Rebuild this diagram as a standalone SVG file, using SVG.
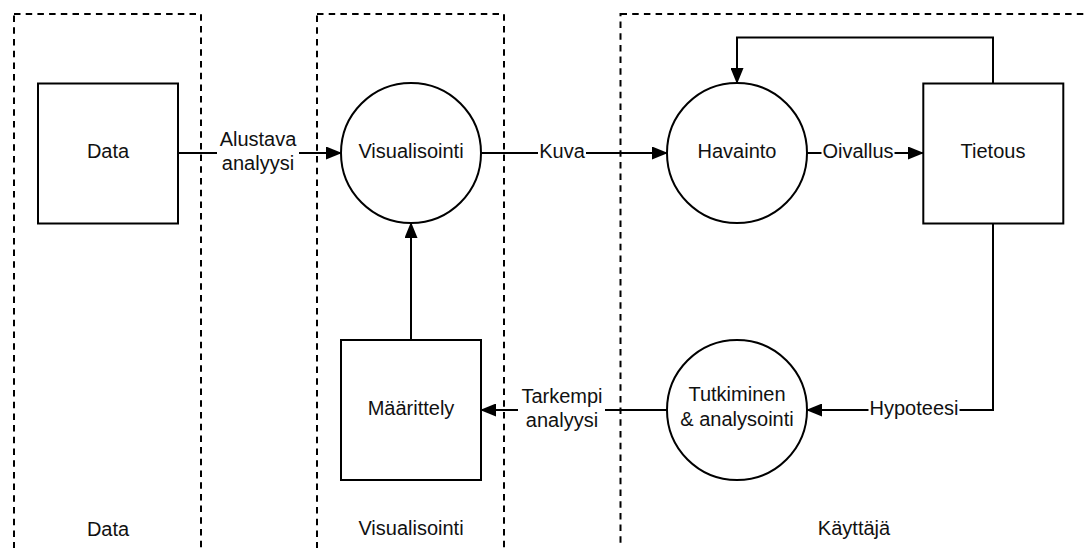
<svg xmlns="http://www.w3.org/2000/svg" width="1085" height="548" viewBox="0 0 1085 548">
  <style>
    .lane { fill: none; stroke: #000; stroke-width: 2; stroke-dasharray: 6.5 5.2; }
    .shape { fill: #fff; stroke: #000; stroke-width: 2; }
    .edge { fill: none; stroke: #000; stroke-width: 2; }
    .lbl-bg { fill: #fff; stroke: none; }
    text { font-family: "Liberation Sans", Arial, sans-serif; font-size: 20px; fill: #111; text-anchor: middle; }
  </style>
  <defs>
    <marker id="arrow" viewBox="0 0 16 13" refX="15" refY="6.5" markerWidth="16" markerHeight="13" markerUnits="userSpaceOnUse" orient="auto">
      <path d="M0,0 L16,6.5 L0,13 Z" fill="#000"/>
    </marker>
  </defs>

  <rect width="1085" height="548" fill="#fff"/>

  <!-- swimlanes -->
  <g id="lanes">
    <g id="lane-data">
      <rect class="lane" x="14" y="14" width="187" height="560"/>
      <text x="108" y="536">Data</text>
    </g>
    <g id="lane-visualisointi">
      <rect class="lane" x="317" y="14" width="187" height="560"/>
      <text x="411" y="535">Visualisointi</text>
    </g>
    <g id="lane-kayttaja">
      <rect class="lane" x="620.5" y="14" width="500" height="560"/>
      <text x="854" y="535">Käyttäjä</text>
    </g>
  </g>

  <!-- connectors -->
  <g id="connectors">
    <g id="e-alustava">
      <line class="edge" x1="178" y1="153" x2="341" y2="153" marker-end="url(#arrow)"/>
      <rect class="lbl-bg" x="217" y="128" width="82" height="48"/>
      <text x="258" y="146">Alustava</text>
      <text x="258" y="170">analyysi</text>
    </g>
    <g id="e-kuva">
      <line class="edge" x1="481" y1="153" x2="667" y2="153" marker-end="url(#arrow)"/>
      <rect class="lbl-bg" x="538" y="140" width="48" height="24"/>
      <text x="562" y="158">Kuva</text>
    </g>
    <g id="e-oivallus">
      <line class="edge" x1="807" y1="153" x2="923" y2="153" marker-end="url(#arrow)"/>
      <rect class="lbl-bg" x="821.5" y="140" width="73" height="24"/>
      <text x="858" y="158">Oivallus</text>
    </g>
    <g id="e-palaute">
      <polyline class="edge" points="993,84 993,37.5 737,37.5 737,83" marker-end="url(#arrow)"/>
    </g>
    <g id="e-hypoteesi">
      <polyline class="edge" points="993,223 993,410 807,410" marker-end="url(#arrow)"/>
      <rect class="lbl-bg" x="868.5" y="397" width="91" height="24"/>
      <text x="914" y="415">Hypoteesi</text>
    </g>
    <g id="e-tarkempi">
      <line class="edge" x1="667" y1="410" x2="481" y2="410" marker-end="url(#arrow)"/>
      <rect class="lbl-bg" x="518" y="385" width="87" height="48"/>
      <text x="562" y="403">Tarkempi</text>
      <text x="562" y="427">analyysi</text>
    </g>
    <g id="e-maarittely">
      <line class="edge" x1="411" y1="340" x2="411" y2="223" marker-end="url(#arrow)"/>
    </g>
  </g>

  <!-- nodes -->
  <g id="n-data">
    <rect class="shape" x="38" y="83.5" width="140" height="140"/>
    <text x="108" y="158">Data</text>
  </g>
  <g id="n-visualisointi">
    <circle class="shape" cx="411" cy="153" r="70"/>
    <text x="411" y="158">Visualisointi</text>
  </g>
  <g id="n-havainto">
    <circle class="shape" cx="737" cy="153" r="70"/>
    <text x="737" y="158">Havainto</text>
  </g>
  <g id="n-tietous">
    <rect class="shape" x="923.3" y="83.5" width="140" height="140"/>
    <text x="993" y="158">Tietous</text>
  </g>
  <g id="n-maarittely">
    <rect class="shape" x="341" y="340" width="140" height="140"/>
    <text x="411" y="415">Määrittely</text>
  </g>
  <g id="n-tutkiminen">
    <circle class="shape" cx="737" cy="410" r="70"/>
    <text x="737" y="401">Tutkiminen</text>
    <text x="737" y="426">&amp; analysointi</text>
  </g>
</svg>
